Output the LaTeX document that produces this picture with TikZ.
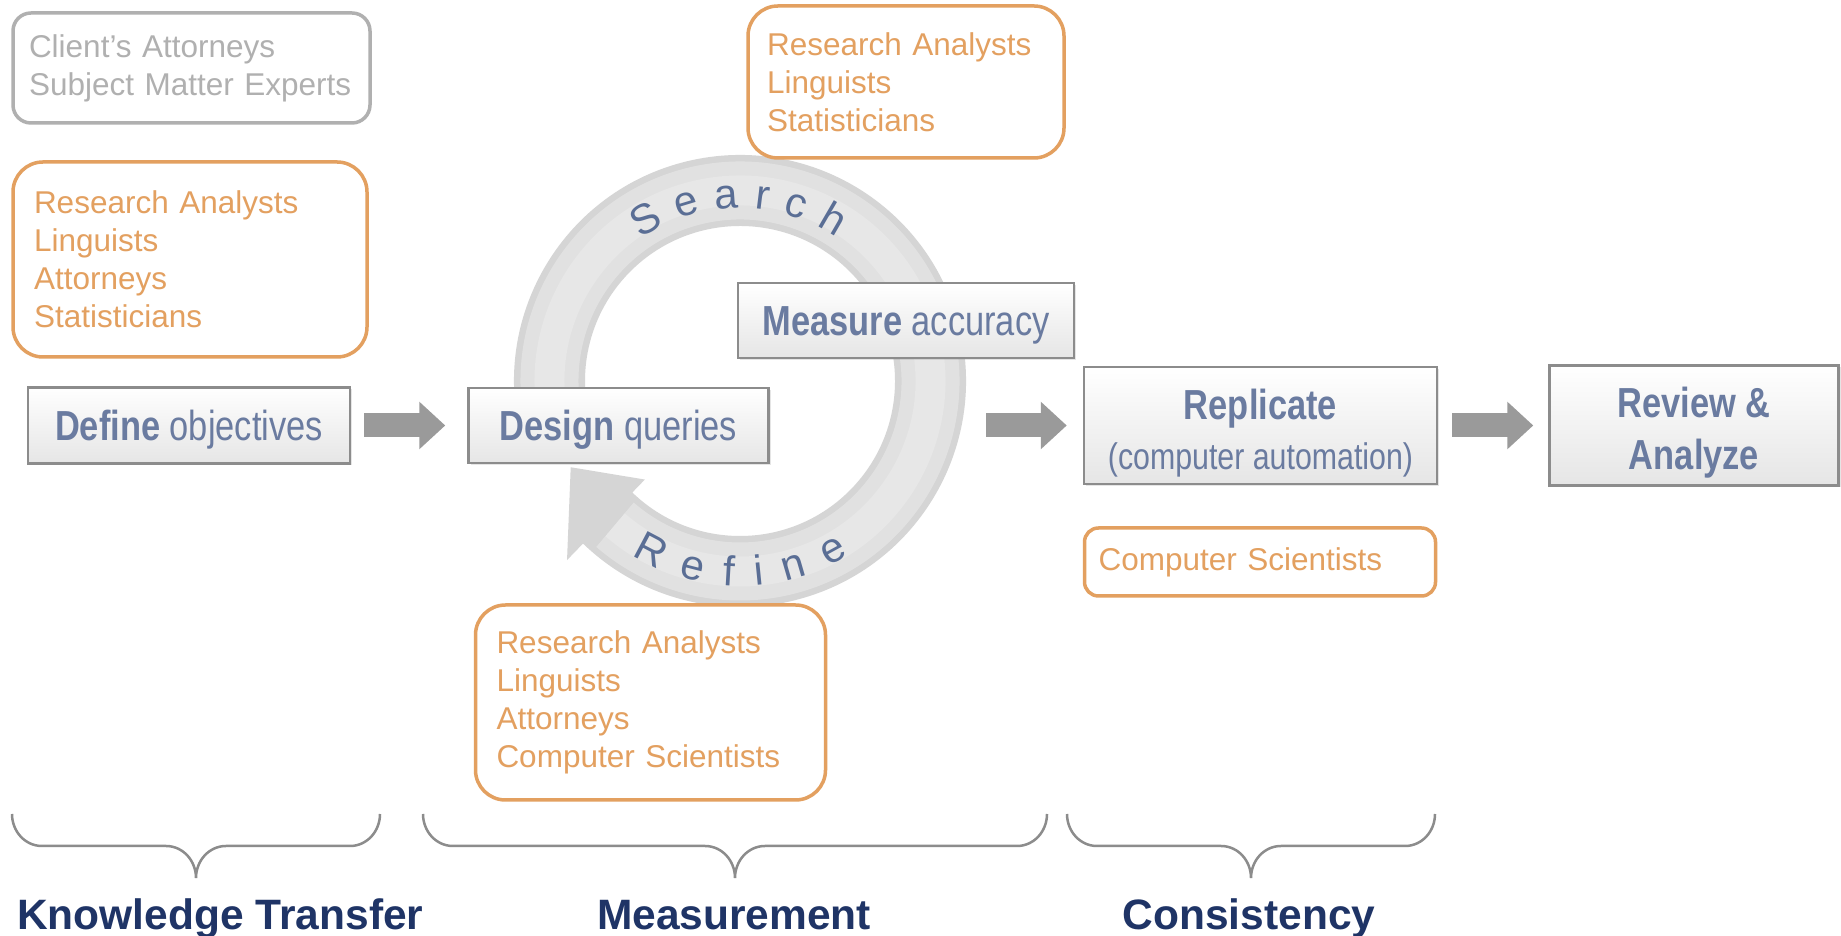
\documentclass[tikz,border=0pt]{standalone}
\usepackage{fontspec}
\setmainfont{Liberation Sans}
\newfontfamily\narrowsans[FakeStretch=0.82]{Liberation Sans}
\usetikzlibrary{positioning,arrows.meta,shadows,decorations.text}

\definecolor{teamorange}{HTML}{E3A060}
\definecolor{clientgrey}{HTML}{B0B0B0}
\definecolor{steptext}{HTML}{6A7BA0}
\definecolor{stepline}{HTML}{8C8C8C}
\definecolor{ringgrey}{HTML}{D5D5D5}
\definecolor{ringtext}{HTML}{5A6E95}
\definecolor{arrowgrey}{HTML}{9A9A9A}
\definecolor{phasenavy}{HTML}{1F3466}

\newcommand\ringfont{\fontsize{42}{44}\selectfont\color{ringtext}}

\tikzset{
	teambox/.style={draw=teamorange, fill=white, line width=3.5pt, rounded corners=30pt,
		text=teamorange, font=\fontsize{31.5}{38}\selectfont, align=left, inner xsep=21pt, inner ysep=0pt},
	clientbox/.style={teambox, draw=clientgrey, text=clientgrey, rounded corners=18pt, inner xsep=16pt},
	stepbox/.style={draw=stepline, line width=2.5pt, top color=white, bottom color=black!10,
		drop shadow={opacity=0.2, shadow xshift=2pt, shadow yshift=-2pt},
		text=steptext, font=\narrowsans\fontsize{42}{50}\selectfont, align=center, inner sep=0pt},
	oneline/.style={text height=30pt, text depth=0pt},
	flowarrow/.style={draw=arrowgrey, line width=24pt, -{Triangle[width=46pt, length=26pt]}},
	bracket/.style={draw=stepline, line width=2.5pt},
	phase/.style={text=phasenavy, font=\bfseries\fontsize{42.5}{50}\selectfont, inner sep=0pt},
	ringword/.style={decorate, decoration={text along path, text align=fit to path, text={#1}}},
}

\begin{document}
\begin{tikzpicture}[x=1pt,y=1pt]
	% page frame
	\path[use as bounding box, fill=white] (0,0) rectangle (1841,936);
	% the search / refine cycle
	\begin{scope}[shift={(740,555)}]
		\fill[ringgrey] (195:226) arc[start angle=195, end angle=-134, radius=226]
			-- (226:249) -- (207:190) -- (226:137) -- (226:155)
			arc[start angle=-134, end angle=195, radius=155] -- cycle;
		\draw[white, opacity=0.3, line width=58pt] (193:190.5) arc[start angle=193, end angle=-131, radius=190.5];
		\draw[white, opacity=0.2, line width=30pt] (193:190.5) arc[start angle=193, end angle=-131, radius=190.5];
		\path[ringword={|\ringfont|Search}] (125:173) arc[start angle=125, end angle=56, radius=173];
		\path[ringword={|\ringfont|Refine}] (238:205) arc[start angle=238, end angle=302, radius=205];
	\end{scope}
	\coordinate (ringout) at (986,510.5);
	% the steps
	\node[stepbox, oneline, minimum width=322pt, minimum height=76pt] (def) at (189,510.5) {\textbf{Define} objectives};
	\node[stepbox, oneline, minimum width=300pt, minimum height=75pt, right=116pt of def] (des) {\textbf{Design} queries};
	\node[stepbox, oneline, minimum width=336pt, minimum height=75pt] (meas) at (906,615.5) {\textbf{Measure} accuracy};
	\node[stepbox, minimum width=353pt, minimum height=117pt] (rep) at (1260.5,510.5)
		{\rule{0pt}{45pt}\textbf{Replicate}\\{\fontsize{37}{44}\selectfont(computer automation)}};
	\node[stepbox, minimum width=289pt, minimum height=120pt, right=110pt of rep] (rev)
		{\rule{0pt}{45pt}\textbf{Review \&}\\[2pt]\textbf{Analyze}};
	% arrows between the steps
	\draw[flowarrow] ([xshift=13pt]def.east) -- ([xshift=-22pt]des.west);
	\draw[flowarrow] (ringout) -- ([xshift=-16pt]rep.west);
	\draw[flowarrow] ([xshift=14pt]rep.east) -- ([xshift=-15pt]rev.west);
	% who takes part
	\node[clientbox, text width=325pt, minimum height=110pt] (client) at (191.5,868)
		{Client’s Attorneys\\Subject Matter Experts};
	\node[teambox, text width=312pt, minimum height=195pt] (teamdef) at (190,676.5)
		{Research Analysts\\Linguists\\Attorneys\\Statisticians};
	\node[teambox, inner xsep=19pt, text width=278pt, minimum height=152pt] (teamsearch) at (906,854)
		{Research Analysts\\Linguists\\Statisticians};
	\node[teambox, text width=308pt, minimum height=195pt] (teamrefine) at (650.5,233.5)
		{Research Analysts\\Linguists\\Attorneys\\Computer Scientists};
	\node[teambox, rounded corners=14pt, inner xsep=14pt, text width=323pt, minimum height=68pt,
		anchor=north west] (teamrep) at ([yshift=-41pt]rep.south west) {Computer Scientists};
	% the phases
	\draw[bracket] (12,122) to[out=-90,in=180] ++(30,-32) -- ++(124,0) to[out=0,in=90] ++(30,-32)
		to[out=90,in=180] ++(30,32) -- ++(124,0) to[out=0,in=-90] ++(30,32);
	\draw[bracket] (423,122) to[out=-90,in=180] ++(30,-32) -- ++(252,0) to[out=0,in=90] ++(30,-32)
		to[out=90,in=180] ++(30,32) -- ++(252,0) to[out=0,in=-90] ++(30,32);
	\draw[bracket] (1067,122) to[out=-90,in=180] ++(30,-32) -- ++(124,0) to[out=0,in=90] ++(30,-32)
		to[out=90,in=180] ++(30,32) -- ++(124,0) to[out=0,in=-90] ++(30,32);
	\node[phase, anchor=base west] (knowledge) at (17,6) {Knowledge Transfer};
	\node[phase, anchor=base] (measurement) at (734,6) {Measurement};
	\node[phase, anchor=base] (consistency) at (1249,6) {Consistency};
\end{tikzpicture}
\end{document}
